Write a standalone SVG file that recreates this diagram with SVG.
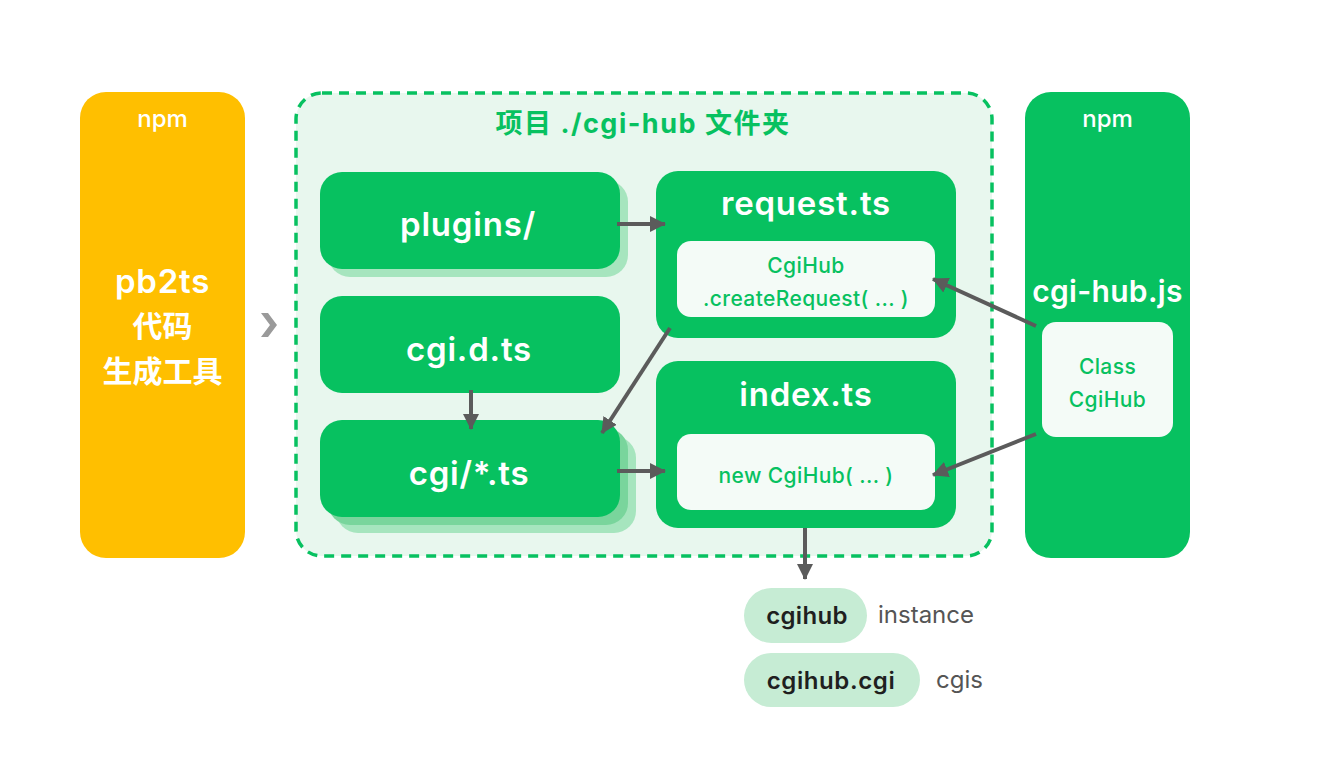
<svg xmlns="http://www.w3.org/2000/svg" width="1324" height="770" viewBox="0 0 1324 770">
  <defs>
    <marker id="ah" markerUnits="userSpaceOnUse" markerWidth="16" markerHeight="16" viewBox="0 0 16 16" refX="15" refY="8" orient="auto">
      <path d="M0,0 L16,8 L0,16 Z" fill="#5b5b5b"/>
    </marker>
    <style>
      .lat{font-family:Inter,"Noto Sans","Noto Sans CJK SC",sans-serif}
      .w{fill:#ffffff}
      .g{fill:#07C160}
      .big{font-size:33px;font-weight:600;letter-spacing:0.8px}
      .sub{font-size:21px;font-weight:500;letter-spacing:0.4px}
      .npm{font-size:24px;font-weight:500}
      .edge{stroke:#5b5b5b;stroke-width:4;fill:none;marker-end:url(#ah)}
      .box{fill:#07C160}
      .inner{fill:#F4FBF7}
    </style>
  </defs>
  <rect width="1324" height="770" fill="#ffffff"/>

  <g id="pb2ts">
    <rect x="80" y="92" width="165" height="466" rx="26" fill="#FFBF00"/>
    <text class="lat npm w" x="162.5" y="127" text-anchor="middle">npm</text>
    <text class="lat w" x="162.5" y="293" text-anchor="middle" font-size="33" font-weight="600" letter-spacing="0.8">pb2ts</text>
    <text class="w" x="162.5" y="337" text-anchor="middle" font-size="30" font-weight="700" font-family="'Noto Sans CJK SC',sans-serif">代码</text>
    <text class="w" x="162.5" y="382" text-anchor="middle" font-size="30" font-weight="700" font-family="'Noto Sans CJK SC',sans-serif">生成工具</text>
  </g>

  <g id="chevron">
    <path d="M261,313 L268,313 L277,325 L268,337 L261,337 L270,325 Z" fill="#9a9a9a"/>
  </g>

  <g id="project">
    <rect x="296" y="93" width="696" height="463" rx="26" fill="#E8F7EE" stroke="#07C160" stroke-width="3.5" stroke-dasharray="10 7"/>
    <text class="g" x="643" y="133" text-anchor="middle" font-size="27" font-weight="700" letter-spacing="1.5" font-family="Inter,'Noto Sans CJK SC',sans-serif">项目 ./cgi-hub 文件夹</text>
  </g>

  <g id="plugins">
    <rect x="328" y="180" width="300" height="97" rx="22" fill="#A6E5BE"/>
    <rect x="320" y="172" width="300" height="97" rx="22" class="box"/>
    <text class="lat big w" x="468" y="236" text-anchor="middle">plugins/</text>
  </g>

  <g id="cgi-d-ts">
    <rect x="320" y="296" width="300" height="97" rx="22" class="box"/>
    <text class="lat big w" x="469" y="361" text-anchor="middle">cgi.d.ts</text>
  </g>

  <g id="cgi-ts">
    <rect x="336" y="436" width="300" height="97" rx="22" fill="#A6E5BE"/>
    <rect x="328" y="428" width="300" height="97" rx="22" fill="#79D59C"/>
    <rect x="320" y="420" width="300" height="97" rx="22" class="box"/>
    <text class="lat big w" x="469" y="485" text-anchor="middle">cgi/*.ts</text>
  </g>

  <g id="request-ts">
    <rect x="656" y="171" width="300" height="167" rx="22" class="box"/>
    <text class="lat big w" x="806" y="215" text-anchor="middle">request.ts</text>
    <rect x="677" y="241" width="258" height="76" rx="14" class="inner"/>
    <text class="lat sub g" x="806" y="273" text-anchor="middle">CgiHub</text>
    <text class="lat sub g" x="806" y="306" text-anchor="middle">.createRequest( ... )</text>
  </g>

  <g id="index-ts">
    <rect x="656" y="361" width="300" height="167" rx="22" class="box"/>
    <text class="lat big w" x="806" y="406" text-anchor="middle">index.ts</text>
    <rect x="677" y="434" width="258" height="76" rx="14" class="inner"/>
    <text class="lat sub g" x="806" y="483" text-anchor="middle">new CgiHub( ... )</text>
  </g>

  <g id="cgi-hub-js">
    <rect x="1025" y="92" width="165" height="466" rx="26" class="box"/>
    <text class="lat npm w" x="1107.5" y="127" text-anchor="middle">npm</text>
    <text class="lat w" x="1107.5" y="302" text-anchor="middle" font-size="30" font-weight="600" letter-spacing="0.3">cgi-hub.js</text>
    <rect x="1042" y="322" width="131" height="115" rx="14" class="inner"/>
    <text class="lat sub g" x="1107.5" y="374" text-anchor="middle">Class</text>
    <text class="lat sub g" x="1107.5" y="407" text-anchor="middle">CgiHub</text>
  </g>

  <g id="connectors">
    <line class="edge" x1="617" y1="224" x2="665" y2="224"/>
    <line class="edge" x1="471" y1="390" x2="471" y2="429"/>
    <line class="edge" x1="670" y1="328" x2="602" y2="433"/>
    <line class="edge" x1="617" y1="471" x2="665" y2="471"/>
    <line class="edge" x1="1036" y1="326" x2="933" y2="279"/>
    <line class="edge" x1="1036" y1="434" x2="933" y2="475"/>
    <line class="edge" x1="805" y1="528" x2="805" y2="579"/>
  </g>

  <g id="cgihub">
    <rect x="744" y="588" width="123" height="55" rx="27.5" fill="#C6ECD4"/>
    <text class="lat" x="807" y="624" text-anchor="middle" font-size="24" font-weight="600" fill="#1f1f1f" letter-spacing="0.3">cgihub</text>
    <text class="lat" x="878" y="623" font-size="24" fill="#555555">instance</text>
  </g>

  <g id="cgihub-cgi">
    <rect x="744" y="653" width="176" height="54" rx="27" fill="#C6ECD4"/>
    <text class="lat" x="831" y="689" text-anchor="middle" font-size="24" font-weight="600" fill="#1f1f1f" letter-spacing="0.6">cgihub.cgi</text>
    <text class="lat" x="936" y="688" font-size="24" fill="#555555">cgis</text>
  </g>
</svg>
